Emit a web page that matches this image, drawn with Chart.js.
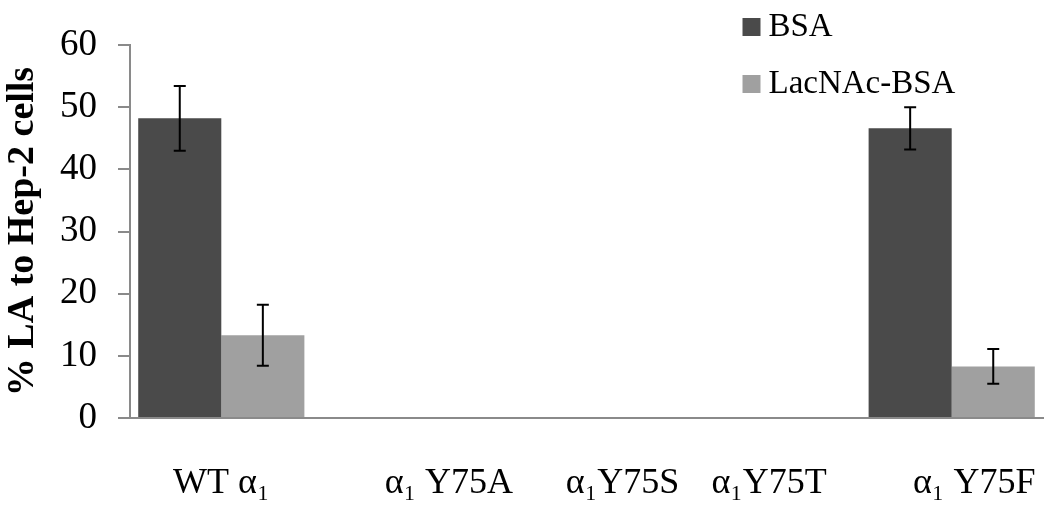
<!DOCTYPE html>
<html>
<head>
<meta charset="utf-8">
<script src="https://cdn.jsdelivr.net/npm/chart.js@4/dist/chart.umd.min.js"></script>
<style>
  html, body { margin: 0; padding: 0; background: #fff; }
  #wrap { width: 1050px; height: 522px; }
</style>
</head>
<body>
<div id="wrap"><canvas id="lac"></canvas></div>
<script>
// labels carry leading spaces to sit where the original text boxes were
var categories = ["WT α₁", "          α₁ Y75A", "        α₁Y75S", "α₁Y75T", "     α₁ Y75F"];
var bsa = [48.2, null, null, null, 46.6];
var bsaErr = [5.2, null, null, null, 3.4];
var lacnac = [13.3, null, null, null, 8.3];
var lacnacErr = [4.9, null, null, null, 2.8];
var yTicks = [0, 10, 20, 30, 40, 50, 60];

var serif = "'Liberation Serif', 'Times New Roman', serif";
var axisGray = '#8a8a8a';

// error bars drawn from the errors arrays through the y scale
var errorBars = {
    id: 'errorBars',
    afterDatasetsDraw: function(chart) {
        var ctx = chart.ctx;
        var y = chart.scales.y;
        ctx.save();
        ctx.strokeStyle = '#000';
        ctx.lineWidth = 2;
        chart.data.datasets.forEach(function(ds, i) {
            var meta = chart.getDatasetMeta(i);
            meta.data.forEach(function(bar, j) {
                var v = ds.data[j], e = ds.errors[j];
                if (v == null || e == null) return;
                var top = y.getPixelForValue(v + e);
                var bot = y.getPixelForValue(v - e);
                ctx.beginPath();
                ctx.moveTo(bar.x, top);
                ctx.lineTo(bar.x, bot);
                ctx.moveTo(bar.x - 6, top);
                ctx.lineTo(bar.x + 6, top);
                ctx.moveTo(bar.x - 6, bot);
                ctx.lineTo(bar.x + 6, bot);
                ctx.stroke();
            });
        });
        ctx.restore();
    }
};

// move the chartArea legend to the top right corner
var legendSpot = {
    id: 'legendSpot',
    afterLayout: function(chart) {
        var lg = chart.legend;
        var pad = lg.options.labels.padding;
        lg.left = 751 - pad;
        lg.top = 10.5 - pad;
    }
};

var ctx = document.getElementById('lac').getContext('2d');
var myChart = new Chart(ctx, {
    type: 'bar',
    data: {
        labels: categories,
        datasets: [{
            label: 'BSA',
            data: bsa,
            errors: bsaErr,
            backgroundColor: '#4a4a4a',
            borderWidth: 0
        }, {
            label: 'LacNAc-BSA',
            data: lacnac,
            errors: lacnacErr,
            backgroundColor: '#a0a0a0',
            borderWidth: 0
        }]
    },
    options: {
        responsive: true,
        maintainAspectRatio: false,
        animation: false,
        categoryPercentage: 0.91,
        barPercentage: 1.0,
        layout: {
            padding: { left: 0, right: 7, top: 45, bottom: 0 }
        },
        plugins: {
            legend: {
                position: 'chartArea',
                align: 'start',
                labels: {
                    color: '#000',
                    font: { family: serif, size: 33 },
                    usePointStyle: true,
                    pointStyle: 'rect',
                    boxWidth: 1,
                    boxHeight: 18,
                    padding: 24
                }
            },
            tooltip: { enabled: false }
        },
        scales: {
            x: {
                // invisible tick marks make the gap under the axis
                grid: {
                    display: true,
                    drawOnChartArea: false,
                    drawTicks: true,
                    tickLength: 44,
                    color: 'rgba(0,0,0,0)'
                },
                border: { display: true, color: axisGray, width: 2 },
                ticks: {
                    color: '#000',
                    font: { family: serif, size: 36 },
                    padding: 0,
                    autoSkip: false,
                    maxRotation: 0,
                    minRotation: 0
                },
                afterFit: function(scale) { scale.height = 104; }
            },
            y: {
                min: 0,
                max: 60,
                afterBuildTicks: function(scale) {
                    scale.ticks = yTicks.map(function(v) { return { value: v }; });
                },
                grid: {
                    drawOnChartArea: false,
                    drawTicks: true,
                    tickLength: 12,
                    color: axisGray,
                    lineWidth: 2
                },
                border: { display: true, color: axisGray, width: 2 },
                ticks: {
                    color: '#000',
                    font: { family: serif, size: 37 },
                    padding: 21
                },
                title: {
                    display: true,
                    text: '% LA to Hep-2 cells',
                    color: '#000',
                    font: { family: serif, size: 38, weight: 'bold' },
                    padding: 0
                },
                afterFit: function(scale) { scale.width = 130; }
            }
        }
    },
    plugins: [errorBars, legendSpot]
});
</script>
</body>
</html>
